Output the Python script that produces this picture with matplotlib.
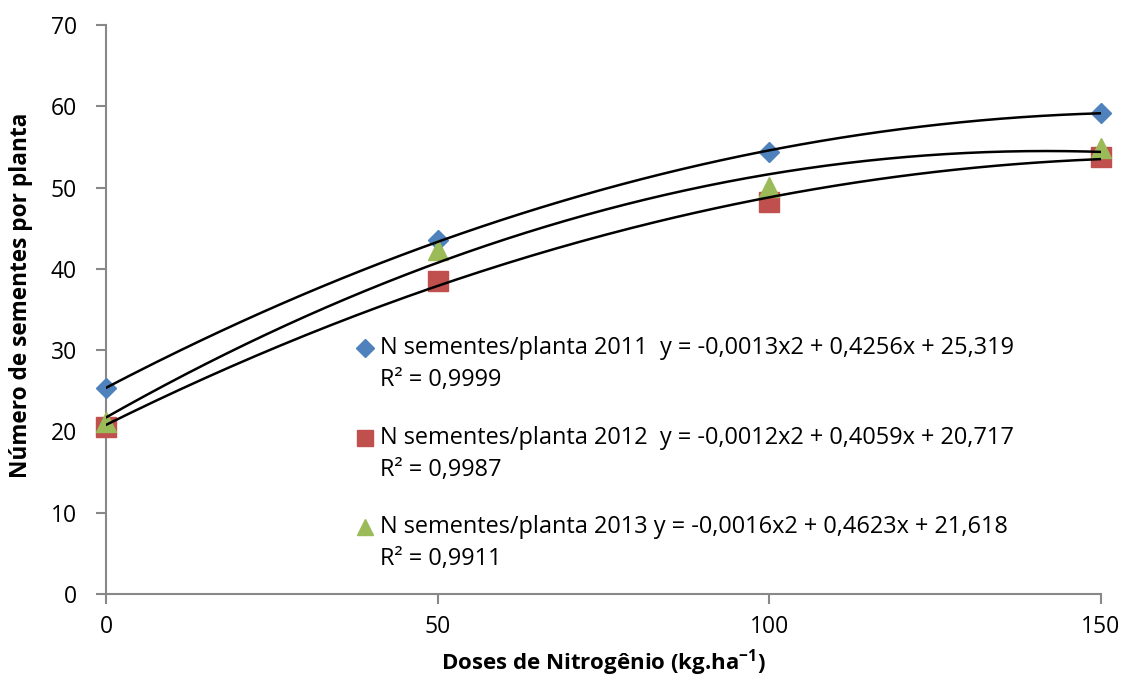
import numpy as np
import matplotlib
matplotlib.use("Agg")
import matplotlib.pyplot as plt

doses = [0, 50, 100, 150]
y2011 = [25.3, 43.5, 54.4, 59.2]
y2012 = [20.6, 38.5, 48.2, 53.7]
y2013 = [21.2, 42.3, 50.1, 54.9]
eq_labels = ["N sementes/planta 2011  y = -0,0013x2 + 0,4256x + 25,319",
             "N sementes/planta 2012  y = -0,0012x2 + 0,4059x + 20,717",
             "N sementes/planta 2013 y = -0,0016x2 + 0,4623x + 21,618"]
r2_labels = ["R² = 0,9999", "R² = 0,9987", "R² = 0,9911"]

plt.rcParams['font.family'] = ['Open Sans', 'DejaVu Sans']
plt.rcParams['mathtext.default'] = 'regular'

fig = plt.figure(figsize=(11.26, 6.79), dpi=100)
ax = fig.add_axes([0.0941, 0.1252, 0.8837, 0.838])

series = [(y2011, 'D', '#4F81BD', 10.5, 9), (y2012, 's', '#C0504D', 14, 12), (y2013, '^', '#9BBB59', 14, 12)]
xs = np.linspace(0, 150, 200)
for ys, m, c, ms, lms in series:
    ax.plot(doses, ys, linestyle='none', marker=m, color=c, markersize=ms, zorder=3, clip_on=False)
for ys, m, c, ms, lms in series:
    p = np.polyfit(doses, ys, 2)
    ax.plot(xs, np.polyval(p, xs), color='black', lw=1.8, zorder=4)

# legend (manual, Excel style)
leg_y = [0.4323, 0.2742, 0.1178]
for (ys, m, c, ms, lms), yy, t1, t2 in zip(series, leg_y, eq_labels, r2_labels):
    ax.plot([0.2603], [yy], transform=ax.transAxes, marker=m, color=c, markersize=lms,
            linestyle='none', clip_on=False)
    ax.text(0.2754, yy, t1, transform=ax.transAxes, fontsize=16.9, va='center', ha='left')
    ax.text(0.2754, yy - 0.0565, t2, transform=ax.transAxes, fontsize=16.9, va='center', ha='left')

ax.set_xlim(0, 150)
ax.set_ylim(0, 70)
ax.set_xticks([0, 50, 100, 150])
ax.set_yticks(range(0, 71, 10))
for s in ['top', 'right']:
    ax.spines[s].set_visible(False)
for s in ['left', 'bottom']:
    ax.spines[s].set_color('#888888')
    ax.spines[s].set_linewidth(1.5)
ax.tick_params(axis='both', colors='#888888', labelcolor='black', labelsize=16.5, length=7, width=1.5, direction='out')
ax.tick_params(axis='x', pad=8)
ax.tick_params(axis='y', pad=14)

ax.set_xlabel('Doses de Nitrogênio (kg.ha$^{-1}$)', fontsize=16, fontweight='bold', labelpad=6)
ax.set_ylabel('Número de sementes por planta', fontsize=16.3, fontweight='bold')
ax.yaxis.set_label_coords(-0.0734, 0.5255)

fig.savefig('out.png', dpi=100)
